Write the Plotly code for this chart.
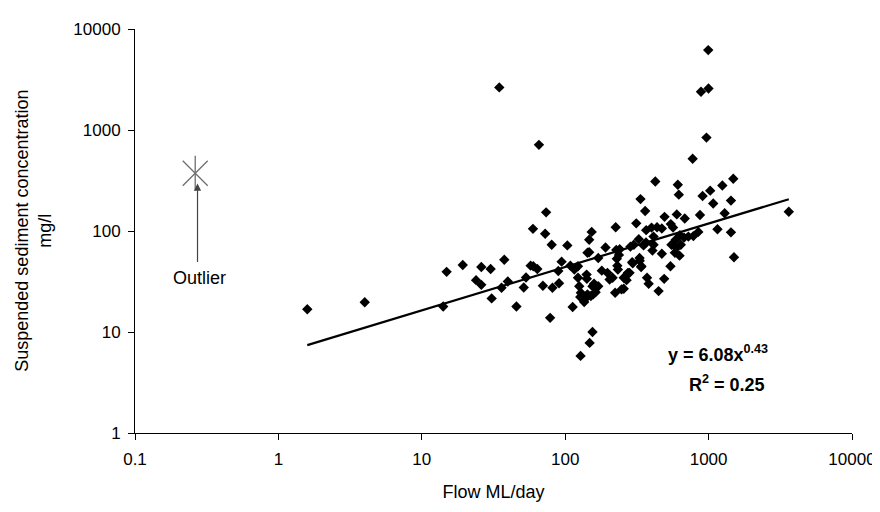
import plotly.graph_objects as go

# Flow (ML/day) and suspended sediment concentration (mg/l)
flow = [34.7, 885, 65.6, 774, 425, 610, 620, 908, 335, 361, 73.6, 493, 600, 682, 871,
        313, 225, 153, 59.6, 72.5, 80.5, 103.5, 147, 191, 143, 37.6, 994, 998, 966,
        1486, 1247, 1026, 1432, 1077, 1294, 3625, 1153, 1432, 1503,
        1.59, 4.0, 14.1, 14.9, 19.3, 26, 30.2, 23.9, 26, 30.7, 36,
        39.8, 45.7, 51.4, 53.3, 57.4, 59.9, 63.9, 69.9, 81.5, 78.5, 90.6, 89.5, 94.4,
        108.6, 112.7, 115.8, 122.8, 122.8, 125.3, 128.6, 127.4, 135.7, 141, 141.6, 147,
        155, 159, 163, 157, 151, 143, 138, 170, 170, 180, 197, 204, 214, 223, 229, 231,
        227, 233, 237, 240, 247, 256, 270, 281, 285, 296, 301, 326, 330, 340, 352, 366,
        372, 382, 367, 400, 437, 472, 413, 413, 406, 448, 472, 490, 545, 565, 542, 551,
        582, 596, 590, 640, 675, 631, 627, 723, 783, 848,
        155, 148, 128, 293, 331, 338, 274, 268, 256]
ssc = [2640, 2395, 713, 520, 309, 287, 229, 222, 207, 158, 153, 138, 146, 133, 144,
       119, 109, 98, 105, 94, 73, 72, 82, 68.6, 61, 52, 6180, 2580, 841,
       329, 282, 251, 200, 187, 150, 155, 104, 97, 55,
       16.8, 19.7, 17.9, 39.4, 46, 44, 42, 32.6, 29.3, 21.5, 27.4,
       31.6, 17.9, 27.6, 34.6, 45.4, 44.7, 42, 28.7, 27.4, 13.8, 30.4, 40.2, 49.7,
       45.4, 17.7, 41.5, 44.7, 34.4, 28.4, 24.5, 22.2, 19.8, 37, 33.6, 61.7,
       28.4, 30, 24.8, 23.6, 22.7, 23.6, 21.4, 54, 28.4, 40.5, 38.5, 33.1, 34.4, 24.5, 53, 45.4,
       65, 41.5, 58, 66, 26.4, 34.4, 37, 38.5, 70, 48, 73, 83, 54, 44.7, 72, 77,
       34.4, 30, 102, 108, 109, 106, 88, 73, 64, 25.4, 59.6, 33.6, 117, 108, 44.7, 73,
       61, 68, 82, 73, 86, 91, 57, 88, 89, 98,
       10, 7.8, 5.8, 49, 50.8, 44, 38.5, 32.6, 26.8]

# Outlier
outlier_flow = [0.263]
outlier_ssc = [373]

# Power trendline y = a * x^b
trend_a = 6.08
trend_b = 0.43
trend_x = [1.59, 3625]
trend_y = [trend_a * v ** trend_b for v in trend_x]

x_ticks = [0.1, 1, 10, 100, 1000, 10000]
x_tick_labels = ["0.1", "1", "10", "100", "1000", "10000"]
y_ticks = [1, 10, 100, 1000, 10000]
y_tick_labels = ["1", "10", "100", "1000", "10000"]

FONT = "Arial, 'Liberation Sans', sans-serif"
GREY = "#6e6e6e"

fig = go.Figure()
fig.add_trace(go.Scatter(x=flow, y=ssc, mode="markers",
                         marker=dict(symbol="diamond", size=8, color="black"),
                         showlegend=False))
fig.add_trace(go.Scatter(x=trend_x, y=trend_y, mode="lines",
                         line=dict(color="black", width=2.2), showlegend=False))
fig.add_trace(go.Scatter(x=outlier_flow, y=outlier_ssc, mode="markers",
                         marker=dict(symbol="x-thin-open", size=25, color=GREY,
                                     line=dict(color=GREY, width=1.3)),
                         showlegend=False))
fig.add_trace(go.Scatter(x=outlier_flow, y=outlier_ssc, mode="markers",
                         marker=dict(symbol="line-ns-open", size=25, color=GREY,
                                     line=dict(color=GREY, width=1.3)),
                         showlegend=False))

fig.update_layout(
    width=880, height=512,
    margin=dict(l=127, r=30, t=18, b=87),
    paper_bgcolor="white", plot_bgcolor="white",
    font=dict(family=FONT, size=18, color="black"),
    xaxis=dict(type="log", range=[-1, 4], tickvals=x_ticks, ticktext=x_tick_labels,
               showgrid=False, zeroline=False, showline=True, linecolor="black",
               linewidth=1, ticks="outside", ticklen=6, tickcolor="black",
               ticklabelstandoff=5, tickfont=dict(size=17),
               title=dict(text="Flow ML/day", font=dict(size=18), standoff=16)),
    yaxis=dict(type="log", range=[0, 4], tickvals=y_ticks, ticktext=y_tick_labels,
               showgrid=False, zeroline=False, showline=True, linecolor="black",
               linewidth=1, ticks="outside", ticklen=6, tickcolor="black",
               ticklabelstandoff=4, tickfont=dict(size=17)),
)

annotations = [
    # y-axis title (two lines)
    dict(text="Suspended sediment concentration", xref="paper", yref="paper",
         x=-0.158, y=0.5, textangle=-90, showarrow=False, font=dict(size=18),
         xanchor="center", yanchor="middle"),
    dict(text="mg/l", xref="paper", yref="paper",
         x=-0.126, y=0.5, textangle=-90, showarrow=False, font=dict(size=18),
         xanchor="center", yanchor="middle"),
    # outlier arrow
    dict(x=-0.564, y=2.47, xref="x", yref="y", text="", showarrow=True,
         arrowhead=2, arrowsize=1.2, arrowwidth=1.2, arrowcolor="#444444",
         ax=0, ay=80),
    dict(x=-0.55, y=1.53, xref="x", yref="y", text="Outlier", showarrow=False,
         font=dict(size=18), xanchor="center", yanchor="middle"),
    # equation
    dict(x=2.70, y=0.79, xref="x", yref="y",
         text="<b>y = 6.08x<sup>0.43</sup></b>", showarrow=False,
         font=dict(size=18), xanchor="left", yanchor="middle"),
    dict(x=3.13, y=0.495, xref="x", yref="y",
         text="<b>R<sup>2</sup> = 0.25</b>", showarrow=False,
         font=dict(size=18), xanchor="center", yanchor="middle"),
]
fig.update_layout(annotations=annotations)

fig.write_html("out.html")
